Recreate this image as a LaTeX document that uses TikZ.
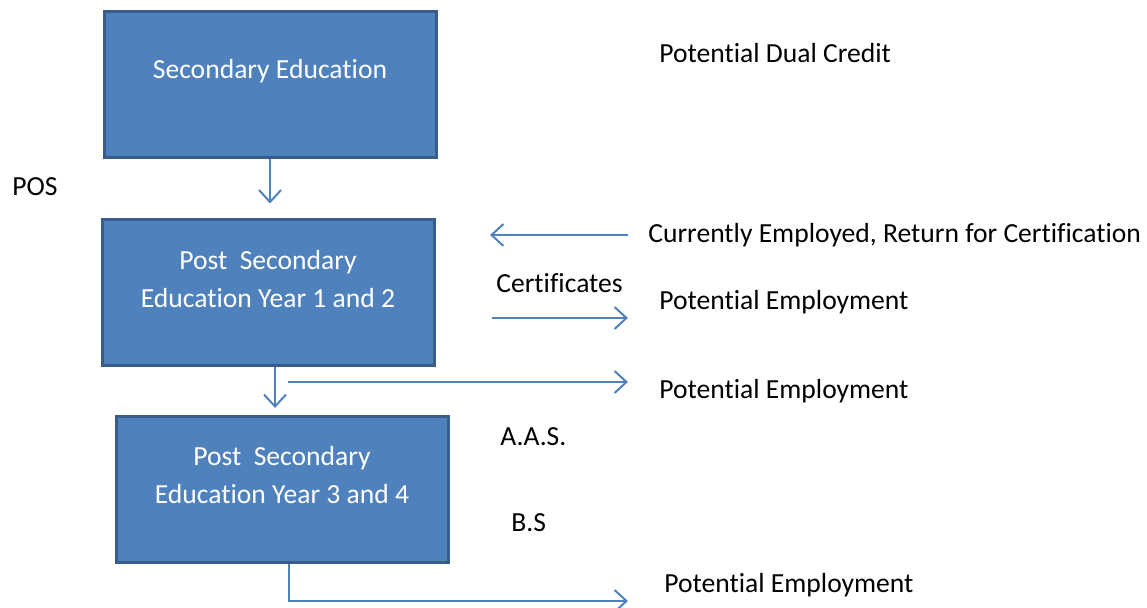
\documentclass[tikz,border=0pt]{standalone}
\usepackage{fontspec}
\setmainfont[Ligatures=NoCommon]{Carlito}
\usepackage{xcolor}
\usetikzlibrary{positioning}
\usetikzlibrary{arrows.meta}
\definecolor{boxFill}{HTML}{4F81BD}
\definecolor{boxLine}{HTML}{385D8A}
\colorlet{flowCol}{boxFill}

\tikzset{
  eduBox/.style={draw=boxLine, fill=boxFill, line width=1.5pt, minimum width=166pt, minimum height=73pt, inner sep=0pt},
  eduText/.style={text=white, align=center, font=\fontsize{13.8}{19}\selectfont, inner sep=0pt},
  sideText/.style={anchor=west, inner sep=0pt, font=\fontsize{13.8}{19}\selectfont},
  flow/.style={draw=flowCol, line width=1pt, -{Straight Barb[length=6pt,width=11pt]}}
}

\begin{document}
\begin{tikzpicture}[x=0.5pt, y=-0.5pt]
%--------------------------------------------------
\useasboundingbox (0,0) rectangle (1147,608);

% the three education boxes
\node[eduBox] (sec) at (270,85) {};
\node[eduText] (secT) at ([yshift=7pt]sec.center) {Secondary Education};

\node[eduBox] (ps12) at (268,293) {};
\node[eduText] (ps12T) at ([yshift=7pt]ps12.center) {Post\ \ Secondary\\Education Year 1 and 2};

\node[eduBox] (ps34) at (282,489.5) {};
\node[eduText] (ps34T) at ([yshift=7pt]ps34.center) {Post\ \ Secondary\\Education Year 3 and 4};

% labels on the side
\node[sideText] (pos) at (12,187) {POS};
\node[sideText] (dual) at (659,53) {Potential Dual Credit};
\node[sideText] (curr) at (648,235) {Currently Employed, Return for Certification};
\node[sideText] (cert) at (496,283) {Certificates};
\node[sideText] (empA) at (659,302) {Potential Employment};
\node[sideText] (empB) at (659,391) {Potential Employment};
\node[sideText] (aas) at (500,437) {A.A.S.};
\node[sideText] (bs) at (511,523) {B.S};
\node[sideText] (empC) at (664,585) {Potential Employment};

% end points of the arrows
\coordinate (retEnd) at (490,235);
\coordinate (certStart) at (492,318);
\coordinate (aasStart) at (288,382);
\coordinate (bsTurn) at (289,601);

% Drawing the arrows
\draw[flow] (sec.south) -- ([yshift=7.5pt]sec.south |- ps12.north);
\draw[flow] ([xshift=-10pt]curr.west) -- (retEnd);
\draw[flow] (certStart) -- ([xshift=-15.5pt]certStart -| empA.west);
\draw[flow] ([xshift=3.5pt]ps12.south) -- ([xshift=3.5pt,yshift=3.5pt]ps12.south |- ps34.north);
\draw[flow] (aasStart) -- ([xshift=-15.5pt]aasStart -| empB.west);
\draw[flow] (bsTurn |- ps34.south) -- (bsTurn) -- ([xshift=-18pt]bsTurn -| empC.west);

%--------------------------------------------------
\end{tikzpicture}
\end{document}
